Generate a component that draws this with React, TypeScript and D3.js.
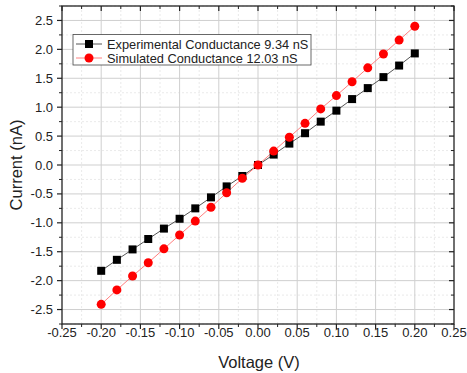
import React from "react";
import * as d3 from "d3";

const voltages = [-0.2, -0.18, -0.16, -0.14, -0.12, -0.1, -0.08, -0.06, -0.04, -0.02, 0, 0.02, 0.04, 0.06, 0.08, 0.1, 0.12, 0.14, 0.16, 0.18, 0.2];
const experimental = [-1.83, -1.64, -1.46, -1.28, -1.1, -0.93, -0.75, -0.56, -0.37, -0.19, 0, 0.18, 0.37, 0.55, 0.75, 0.94, 1.14, 1.33, 1.52, 1.72, 1.93];
const simulated = [-2.41, -2.16, -1.92, -1.69, -1.45, -1.21, -0.97, -0.73, -0.48, -0.23, 0, 0.24, 0.48, 0.72, 0.97, 1.2, 1.44, 1.68, 1.92, 2.16, 2.4];
const xTicks = [-0.25, -0.2, -0.15, -0.1, -0.05, 0, 0.05, 0.1, 0.15, 0.2, 0.25];
const yTicks = [-2.5, -2.0, -1.5, -1.0, -0.5, 0.0, 0.5, 1.0, 1.5, 2.0, 2.5];
const legendLabels = ["Experimental Conductance 9.34 nS", "Simulated Conductance 12.03 nS"];

const W = 467, H = 373;
const L = 62, R = 454, T = 6, B = 324;

export default function App() {
  const x = d3.scaleLinear().domain([-0.25, 0.25]).range([L, R]);
  const y = d3.scaleLinear().domain([-2.75, 2.75]).range([B, T]);
  const xMinor = d3.range(-0.25, 0.2501, 0.025).map(v => +v.toFixed(3)).filter(v => !xTicks.some(t => Math.abs(t - v) < 1e-6));
  const yMinor = d3.range(-2.75, 2.7501, 0.25).map(v => +v.toFixed(3)).filter(v => !yTicks.some(t => Math.abs(t - v) < 1e-6));
  const line = d3.line<number>().x((_, i) => x(voltages[i])).y(d => y(d));
  const font = "Arial, 'Liberation Sans', sans-serif";
  const fmtX = (v: number) => v.toFixed(2);
  const fmtY = (v: number) => v.toFixed(1);
  return (
    <svg width={W} height={H} style={{ position: "absolute", left: 0, top: 0, background: "#fff" }} fontFamily={font}>
      {/* minor grid */}
      {xMinor.map(v => (
        <line key={"xm" + v} x1={x(v)} x2={x(v)} y1={T} y2={B} stroke="#e4e4e4" strokeWidth={0.8} strokeDasharray="2,2" />
      ))}
      {yMinor.map(v => (
        <line key={"ym" + v} x1={L} x2={R} y1={y(v)} y2={y(v)} stroke="#e4e4e4" strokeWidth={0.8} strokeDasharray="2,2" />
      ))}
      {/* major grid */}
      {xTicks.slice(1, -1).map(v => (
        <line key={"xg" + v} x1={x(v)} x2={x(v)} y1={T} y2={B} stroke="#cfcfcf" strokeWidth={1} />
      ))}
      {yTicks.map(v => (
        <line key={"yg" + v} x1={L} x2={R} y1={y(v)} y2={y(v)} stroke="#cfcfcf" strokeWidth={1} />
      ))}
      {/* series lines */}
      <path d={line(experimental) || ""} fill="none" stroke="#555" strokeWidth={1} />
      <path d={line(simulated) || ""} fill="none" stroke="#ff8080" strokeWidth={1} />
      {experimental.map((v, i) => (
        <rect key={"e" + i} x={x(voltages[i]) - 4} y={y(v) - 4} width={8} height={8} fill="#000" />
      ))}
      {simulated.map((v, i) => (
        <circle key={"s" + i} cx={x(voltages[i])} cy={y(v)} r={4.5} fill="#ff0000" />
      ))}
      {/* frame */}
      <rect x={L} y={T} width={R - L} height={B - T} fill="none" stroke="#222" strokeWidth={1.3} />
      {/* ticks */}
      {xTicks.map(v => (
        <g key={"xt" + v}>
          <line x1={x(v)} x2={x(v)} y1={B} y2={B + 5} stroke="#222" strokeWidth={1.2} />
          <line x1={x(v)} x2={x(v)} y1={T} y2={T + 5} stroke="#222" strokeWidth={1.2} />
          <text x={x(v)} y={337} textAnchor="middle" fontSize={13} fill="#222">{fmtX(v)}</text>
        </g>
      ))}
      {xMinor.map(v => (
        <g key={"xmt" + v}>
          <line x1={x(v)} x2={x(v)} y1={B} y2={B + 3} stroke="#222" strokeWidth={1} />
          <line x1={x(v)} x2={x(v)} y1={T} y2={T + 3} stroke="#222" strokeWidth={1} />
        </g>
      ))}
      {yTicks.map(v => (
        <g key={"yt" + v}>
          <line x1={L - 5} x2={L} y1={y(v)} y2={y(v)} stroke="#222" strokeWidth={1.2} />
          <line x1={R - 5} x2={R} y1={y(v)} y2={y(v)} stroke="#222" strokeWidth={1.2} />
          <text x={53} y={y(v) + 4.5} textAnchor="end" fontSize={13} fill="#222">{fmtY(v)}</text>
        </g>
      ))}
      {yMinor.map(v => (
        <g key={"ymt" + v}>
          <line x1={L - 3} x2={L} y1={y(v)} y2={y(v)} stroke="#222" strokeWidth={1} />
          <line x1={R - 3} x2={R} y1={y(v)} y2={y(v)} stroke="#222" strokeWidth={1} />
        </g>
      ))}
      {/* axis titles */}
      <text x={259} y={368} textAnchor="middle" fontSize={16.5} fill="#222">Voltage (V)</text>
      <text transform="translate(22,165) rotate(-90)" textAnchor="middle" fontSize={16.5} fill="#222">Current (nA)</text>
      {/* legend */}
      <rect x={73} y={34.5} width={238} height={30.5} fill="#fff" stroke="#444" strokeWidth={0.8} />
      <line x1={76} x2={102} y1={44} y2={44} stroke="#555" strokeWidth={1} />
      <rect x={85} y={40} width={8} height={8} fill="#000" />
      <text x={107} y={48.5} fontSize={12.8} fill="#222">{legendLabels[0]}</text>
      <line x1={76} x2={102} y1={58} y2={58} stroke="#ff8080" strokeWidth={1} />
      <circle cx={89} cy={58} r={4.5} fill="#ff0000" />
      <text x={107} y={62.5} fontSize={12.8} fill="#222">{legendLabels[1]}</text>
    </svg>
  );
}
